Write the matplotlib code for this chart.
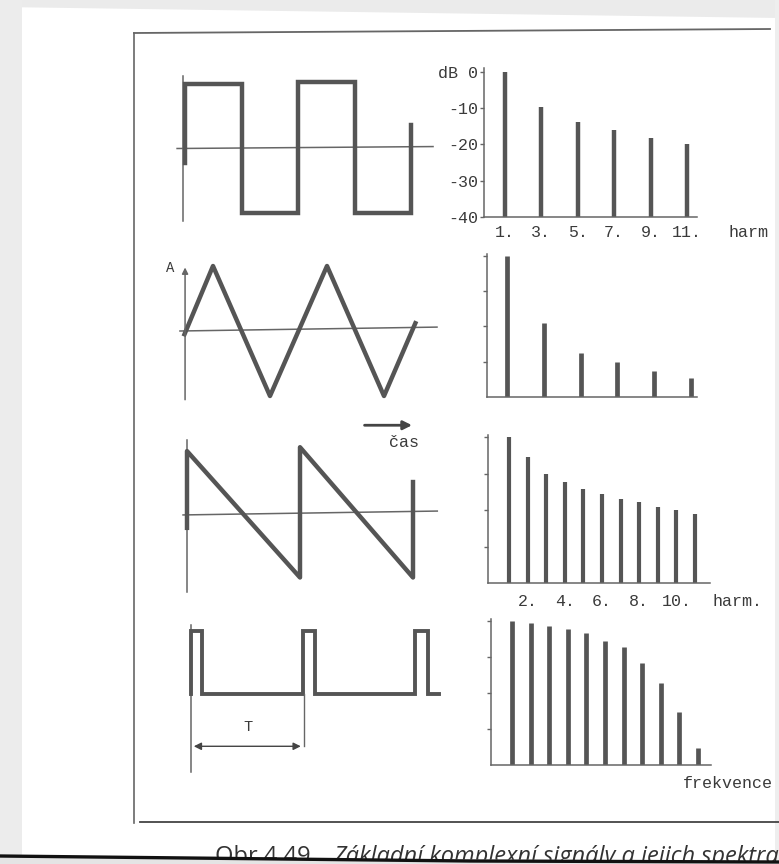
import matplotlib
matplotlib.use('Agg')
import matplotlib.pyplot as plt
import numpy as np

W, H = 779, 864

# waveforms (time in half-periods / periods, amplitude normalised)
sq_t = [0, 0, 1, 1, 2, 2, 3, 3, 4, 4]
sq_v = [-0.22, 1, 1, -1, -1, 1.03, 1.03, -1, -1, 0.36]

tri_t = [0, 0.5, 1.5, 2.5, 3.5, 4.05]
tri_v = [-0.05, 1, -1, 1, -1, 0.12]

saw_t = [0, 0, 2, 2, 4, 4]
saw_v = [-0.23, 0.96, -1, 1.02, -1, 0.48]

pulse_t = [0, 0, 0.1, 0.1, 1, 1, 1.11, 1.11, 2, 2, 2.12, 2.12, 2.21]
pulse_v = [0, 1, 1, 0, 0, 1, 1, 0, 0, 1, 1, 0, 0]

# spectra
sq_harm = [1, 3, 5, 7, 9, 11]
sq_db = [0, -9.7, -13.8, -16.0, -18.3, -19.9]
sq_ticks = [-40, -30, -20, -10, 0]
sq_ticklabels = ['-40', '-30', '-20', '-10', 'dB 0']
sq_harmlabels = ['1.', '3.', '5.', '7.', '9.', '11.']

tri_harm = [1, 3, 5, 7, 9, 11]
tri_amp = [1.0, 0.525, 0.312, 0.248, 0.184, 0.135]

saw_harm = list(range(1, 12))
saw_amp = [1.0, 0.863, 0.747, 0.692, 0.644, 0.610, 0.575, 0.555, 0.521, 0.500, 0.473]
saw_labpos = [2, 4, 6, 8, 10]
saw_harmlabels = ['2.', '4.', '6.', '8.', '10.']

pulse_harm = list(range(1, 12))
pulse_amp = [1.0, 0.986, 0.965, 0.944, 0.917, 0.861, 0.819, 0.708, 0.569, 0.368, 0.118]

INK = '#555555'
LINE = '#666666'
TXT = '#3a3a3a'
MONO = 'Liberation Mono'
FS = 12

fig = plt.figure(figsize=(W/100, H/100), dpi=100)
fig.patch.set_facecolor('white')

# page background / frame / caption
bg = fig.add_axes([0, 0, 1, 1])
bg.set_xlim(0, W); bg.set_ylim(H, 0); bg.axis('off')
bg.fill([0, W, W, 0], [0, 0, 18, 7], color='#ebebeb', lw=0)
bg.fill([0, 22, 22, 0], [0, 0, H, H], color='#ececec', lw=0)
bg.fill([775, W, W, 775], [0, 0, H, H], color='#eeeeee', lw=0)
bg.plot([134, 134], [33, 823], color=LINE, lw=1.2)
bg.plot([134, 770], [33, 29], color=LINE, lw=1.3)
bg.plot([140, W], [822, 822], color='#444444', lw=1.3)
bg.text(215, 845, 'Obr 4.49', fontsize=17, family='Open Sans', color='#333333', va='top', zorder=2)
bg.text(333, 845, 'Základní komplexní signály a jejich spektra', fontsize=17, family='Open Sans',
        style='italic', color='#333333', va='top', zorder=2)
bg.fill([0, W, W, 0], [857, 861, H, H], color='#e4e4e4', lw=0, zorder=3)
bg.plot([0, 470, W], [856, 861, 862], color='#111111', lw=2.4, zorder=4)


def wave_axes(px0, py0, sx, sy, box):
    x0, y0, x1, y1 = box
    ax = fig.add_axes([x0/W, 1-y1/H, (x1-x0)/W, (y1-y0)/H])
    ax.set_xlim((x0-px0)/sx, (x1-px0)/sx)
    ax.set_ylim((py0-y1)/sy, (py0-y0)/sy)
    ax.set_facecolor('none')
    ax.axis('off')
    return ax


def spec_axes(px_h1, sh, box, ylo, yhi):
    x0, y0, x1, y1 = box
    ax = fig.add_axes([x0/W, 1-y1/H, (x1-x0)/W, (y1-y0)/H])
    ax.set_xlim(1+(x0-px_h1)/sh, 1+(x1-px_h1)/sh)
    ax.set_ylim(ylo, yhi)
    ax.set_facecolor('none')
    for s in ['top', 'right']:
        ax.spines[s].set_visible(False)
    for s in ['left', 'bottom']:
        ax.spines[s].set_color(LINE)
        ax.spines[s].set_linewidth(1.1)
    ax.tick_params(axis='y', direction='out', length=3, width=1, color=LINE)
    ax.tick_params(axis='x', length=0)
    return ax


# 1) square wave
a = wave_axes(185, 148.5, 56.5, 64.5, (165, 65, 445, 230))
a.plot([-0.03, -0.03], [1.12, -1.12], color=LINE, lw=1.1)
a.plot([-0.14, 4.39], [0, 0.03], color=LINE, lw=1.1)
a.plot(sq_t, sq_v, color=INK, lw=3.2, solid_joinstyle='miter')

# 2) triangle wave
a = wave_axes(184.5, 331, 57, 65, (160, 255, 445, 455))
a.annotate('', xy=(0.01, 1.02), xytext=(0.01, -1.1),
           arrowprops=dict(arrowstyle='-|>', color=LINE, lw=1.1, mutation_scale=9))
a.plot([-0.08, 4.43], [0, 0.06], color=LINE, lw=1.1)
a.plot(tri_t, tri_v, color=INK, lw=3.2)
a.text(-0.25, 0.97, 'A', fontsize=10, family=MONO, color=TXT, ha='center', va='center')
a.annotate('', xy=(4.04, -1.45), xytext=(3.11, -1.45),
           arrowprops=dict(arrowstyle='-|>', color='#444444', lw=2, mutation_scale=13))
a.text(3.85, -1.72, 'čas', fontsize=FS, family=MONO, color=TXT, ha='center', va='center')

# 3) sawtooth wave
a = wave_axes(187, 513, 56.5, 64.5, (165, 435, 445, 600))
a.plot([0, 0], [1.13, -1.22], color=LINE, lw=1.1)
a.plot([-0.07, 4.43], [-0.03, 0.03], color=LINE, lw=1.1)
a.plot(saw_t, saw_v, color=INK, lw=3.2)

# 4) pulse train
a = wave_axes(191, 694, 112, 63, (165, 615, 445, 780))
a.plot([0, 0], [1.1, -1.24], color=LINE, lw=1.1)
a.plot(pulse_t, pulse_v, color=INK, lw=2.8, solid_joinstyle='miter')
a.plot([1.005, 1.005], [0, -0.83], color=LINE, lw=1)
a.annotate('', xy=(0.0, -0.83), xytext=(1.005, -0.83),
           arrowprops=dict(arrowstyle='<|-|>', color='#444444', lw=1, mutation_scale=11))
a.text(0.51, -0.52, 'T', fontsize=11, family=MONO, color=TXT, ha='center', va='center')

# spectra
a = spec_axes(505, 18.2, (484, 68, 697, 217), -40, 1.1)
a.vlines(sq_harm, -40, sq_db, color=INK, lw=3.2)
a.set_yticks(sq_ticks)
a.set_yticklabels(sq_ticklabels, family=MONO, fontsize=FS, color=TXT)
a.tick_params(axis='y', pad=1)
a.set_xticks(sq_harm)
a.set_xticklabels(sq_harmlabels, family=MONO, fontsize=FS, color=TXT)
a.tick_params(axis='x', pad=6)
a.annotate('harm', xy=(14.4, -40), xytext=(0, -6), textcoords='offset points',
           ha='center', va='top', family=MONO, fontsize=FS, color=TXT, annotation_clip=False)

a = spec_axes(507, 18.4, (487, 254, 697, 397), 0, 1.014)
a.vlines(tri_harm, 0, tri_amp, color=INK, lw=3.4)
a.set_yticks([0.25, 0.5, 0.75, 1.0]); a.set_yticklabels([])
a.set_xticks([])

a = spec_axes(509, 18.6, (488, 435, 710, 583), 0, 148/146)
a.vlines(saw_harm, 0, saw_amp, color=INK, lw=3.0)
a.set_yticks([0.25, 0.5, 0.75, 1.0]); a.set_yticklabels([])
a.set_xticks(saw_labpos)
a.set_xticklabels(saw_harmlabels, family=MONO, fontsize=FS, color=TXT)
a.tick_params(axis='x', pad=8)
a.annotate('harm.', xy=(13.3, 0), xytext=(0, -8), textcoords='offset points',
           ha='center', va='top', family=MONO, fontsize=FS, color=TXT, annotation_clip=False)

a = spec_axes(512, 18.6, (491, 619, 711, 765), 0, 146/144)
a.vlines(pulse_harm, 0, pulse_amp, color=INK, lw=3.4)
a.set_yticks([0.25, 0.5, 0.75, 1.0]); a.set_yticklabels([])
a.set_xticks([])
a.annotate('frekvence', xy=(12.6, 0), xytext=(0, -8), textcoords='offset points',
           ha='center', va='top', family=MONO, fontsize=FS, color=TXT, annotation_clip=False)

fig.savefig('out.png', dpi=100)
